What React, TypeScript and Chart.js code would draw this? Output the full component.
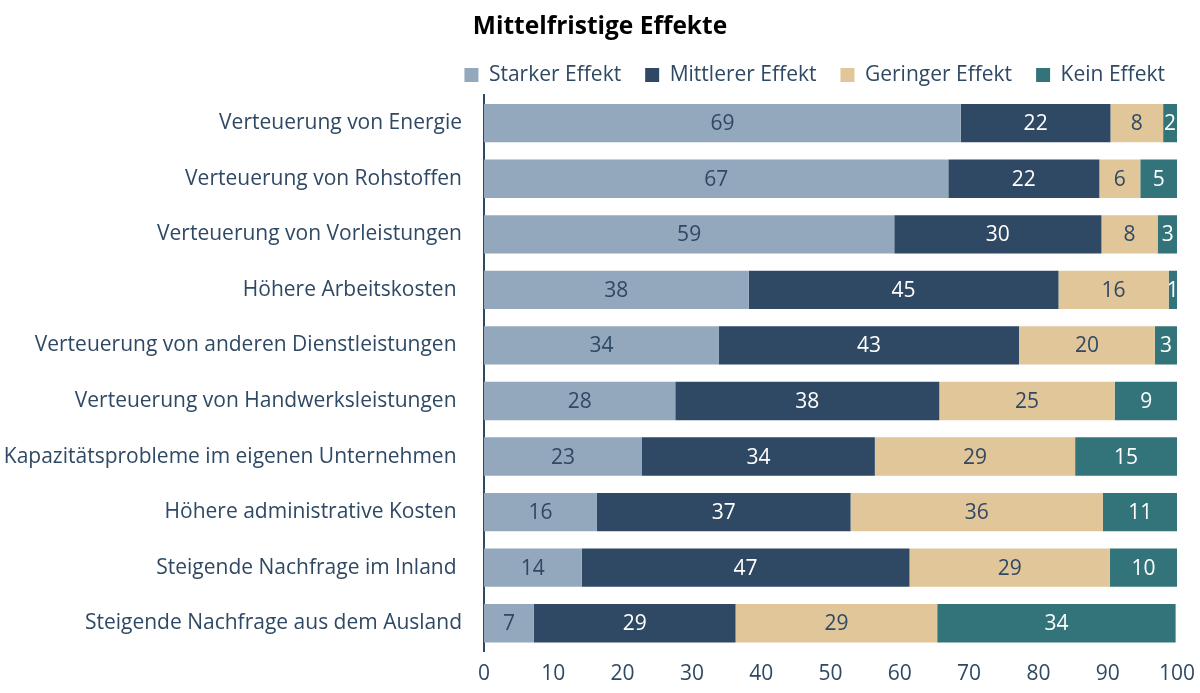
import React, { useEffect, useRef } from "react";
import { Chart, registerables } from "chart.js";

Chart.register(...registerables);

const categories = [
  "Verteuerung von Energie",
  "Verteuerung von Rohstoffen",
  "Verteuerung von Vorleistungen",
  "Höhere Arbeitskosten ",
  "Verteuerung von anderen Dienstleistungen ",
  "Verteuerung von Handwerksleistungen ",
  "Kapazitätsprobleme im eigenen Unternehmen ",
  "Höhere administrative Kosten ",
  "Steigende Nachfrage im Inland ",
  "Steigende Nachfrage aus dem Ausland",
];

const starker = [68.8, 67.0, 59.2, 38.2, 33.9, 27.6, 22.8, 16.3, 14.1, 7.2];
const mittlerer = [21.6, 21.8, 29.9, 44.7, 43.3, 38.1, 33.6, 36.6, 47.3, 29.1];
const geringer = [7.6, 5.9, 8.1, 15.9, 19.6, 25.3, 28.9, 36.4, 28.9, 29.1];
const kein = [2.0, 5.3, 2.9, 1.2, 3.2, 9.1, 14.7, 10.8, 9.7, 34.4];

const seriesNames = ["Starker Effekt", "Mittlerer Effekt", "Geringer Effekt", "Kein Effekt"];
const xTicks = [0, 10, 20, 30, 40, 50, 60, 70, 80, 90, 100];

const COLORS = ["#93a8bc", "#2f4964", "#e1c699", "#33747b"];
const LABEL_COLORS = ["#2f4964", "#ffffff", "#2f4964", "#ffffff"];
const TEXT = "#2f4964";
const FONT = "'Open Sans'";

const valueLabels = {
  id: "valueLabels",
  afterDatasetsDraw(chart: any) {
    const ctx = chart.ctx;
    ctx.save();
    ctx.font = `21px ${FONT}`;
    ctx.textAlign = "center";
    ctx.textBaseline = "middle";
    chart.data.datasets.forEach((ds: any, di: number) => {
      const meta = chart.getDatasetMeta(di);
      meta.data.forEach((bar: any, i: number) => {
        const v = ds.data[i];
        const { x, base, y } = bar.getProps(["x", "base", "y"], true);
        ctx.fillStyle = LABEL_COLORS[di];
        ctx.fillText(String(Math.round(v)), (x + base) / 2, y + 1);
      });
    });
    ctx.restore();
  },
};

const headerShift = {
  id: "headerShift",
  beforeDraw(chart: any) {
    const lg = chart.legend;
    if (lg) {
      const pad = lg.options.labels.padding;
      lg.right = 1165 + pad;
    }
    const tb = chart.titleBlock;
    if (tb) {
      tb.left = 0;
      tb.right = 1200;
    }
  },
};

export default function App() {
  const ref = useRef<HTMLCanvasElement>(null);
  useEffect(() => {
    const data = [starker, mittlerer, geringer, kein];
    const chart = new Chart(ref.current!, {
      type: "bar",
      data: {
        labels: categories,
        datasets: seriesNames.map((n, i) => ({
          label: n,
          data: data[i],
          backgroundColor: COLORS[i],
          borderWidth: 0,
          barPercentage: 0.69,
          categoryPercentage: 1,
        })),
      },
      options: {
        indexAxis: "y",
        animation: false,
        responsive: false,
        maintainAspectRatio: false,
        layout: { padding: { left: 0, right: 23, top: 0, bottom: 0 } },
        plugins: {
          title: {
            display: true,
            text: "Mittelfristige Effekte",
            color: "#000000",
            font: { family: FONT, size: 24.5, weight: "bold" },
            padding: { top: 12, bottom: -1 },
          },
          legend: {
            position: "top",
            align: "end",
            labels: {
              color: TEXT,
              font: { family: FONT, size: 21 },
              boxWidth: 14,
              boxHeight: 14,
              padding: 24,
            },
          },
          tooltip: { enabled: false },
        },
        scales: {
          x: {
            stacked: true,
            min: 0,
            max: 100,
            afterBuildTicks: (s: any) => {
              s.ticks = xTicks.map((v) => ({ value: v }));
            },
            afterFit: (s: any) => {
              s.height = 42;
              s.paddingRight = 0;
              s.paddingLeft = 0;
            },
            grid: { display: false, drawTicks: false },
            border: { display: false },
            ticks: {
              color: TEXT,
              font: { family: FONT, size: 21 },
              padding: 10,
              maxRotation: 0,
            },
          },
          y: {
            stacked: true,
            afterFit: (s: any) => {
              s.width = 484;
            },
            grid: { display: false, drawTicks: false },
            border: { display: true, color: TEXT, width: 2 },
            ticks: {
              color: TEXT,
              font: { family: FONT, size: 21 },
              padding: 22,
            },
          },
        },
      },
      plugins: [valueLabels, headerShift],
    });
    return () => chart.destroy();
  }, []);
  return (
    <div style={{ position: "absolute", left: 0, top: 0, width: 1200, height: 693, background: "#fff" }}>
      <canvas ref={ref} width={1200} height={693} style={{ width: 1200, height: 693 }} />
    </div>
  );
}
